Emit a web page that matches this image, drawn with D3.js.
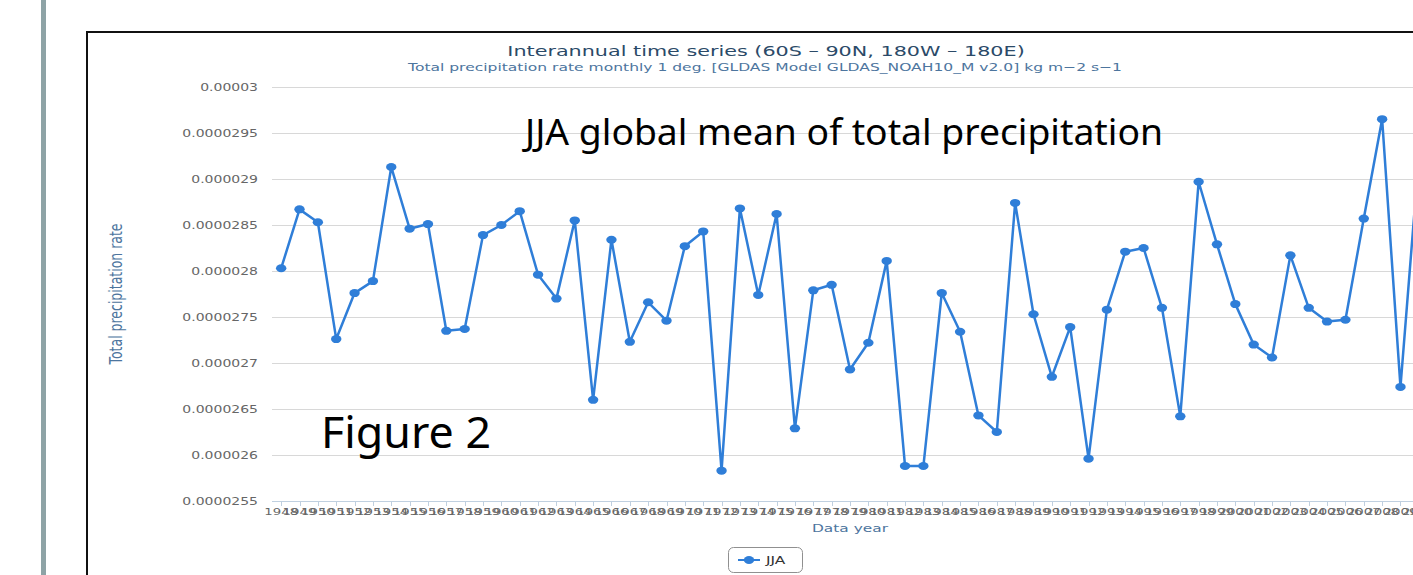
<!DOCTYPE html>
<html>
<head>
<meta charset="utf-8">
<script src="https://cdn.jsdelivr.net/npm/d3@7"></script>
<style>
  html, body { margin: 0; padding: 0; background: #fff; overflow: hidden; }
  svg { display: block; }
</style>
</head>
<body>
<svg id="chart"></svg>
<script>
// JJA global mean total precipitation rate, GLDAS NOAH10 v2.0 (kg m-2 s-1)
const years = d3.range(1948, 2011);
const jja = [
  28.03, 28.67, 28.53, 27.26, 27.76, 27.89, 29.13, 28.46, 28.51, 27.35,
  27.37, 28.39, 28.50, 28.65, 27.96, 27.70, 28.55, 26.60, 28.34, 27.23,
  27.66, 27.46, 28.27, 28.43, 25.83, 28.68, 27.74, 28.62, 26.29, 27.79,
  27.85, 26.93, 27.22, 28.11, 25.88, 25.88, 27.76, 27.34, 26.43, 26.25,
  28.74, 27.53, 26.85, 27.39, 25.96, 27.58, 28.21, 28.25, 27.60, 26.42,
  28.97, 28.29, 27.64, 27.20, 27.06, 28.17, 27.60, 27.45, 27.47, 28.57,
  29.65, 26.74, 29.24
].map(v => v * 1e-6);
const yTicks = [0.0000255, 0.000026, 0.0000265, 0.000027, 0.0000275,
                0.000028, 0.0000285, 0.000029, 0.0000295, 0.00003];
const yTickLabels = ["0.0000255", "0.000026", "0.0000265", "0.000027", "0.0000275",
                     "0.000028", "0.0000285", "0.000029", "0.0000295", "0.00003"];

const width = 1413;
const height = 575;
const SX = 1.4; // the screenshot is stretched sideways
const font = "'DejaVu Sans', Verdana, sans-serif";
const blue = "#2f7ed8";

const svg = d3.select("#chart")
    .attr("width", width)
    .attr("height", height)
    .attr("viewBox", [0, 0, width, height]);

// page furniture
svg.append("rect").attr("x", 41).attr("y", 0).attr("width", 5).attr("height", height)
    .attr("fill", "#8ea3a6");
svg.append("rect").attr("x", 87).attr("y", 32).attr("width", 1400).attr("height", 600)
    .attr("fill", "#fff").attr("stroke", "#111").attr("stroke-width", 2);

const stretched = (g, x, y, txt) => g.append("text")
    .attr("transform", `translate(${x},${y}) scale(${SX},1)`)
    .style("font-family", font)
    .text(txt);

const x = d3.scalePoint().domain(years).range([272, 1428]).padding(0.5);
const y = d3.scaleLinear().domain([0.0000255, 0.00003]).range([501, 87]);

// titles
stretched(svg, 766, 56, "Interannual time series (60S \u2013 90N, 180W \u2013 180E)")
    .attr("text-anchor", "middle").style("font-size", "14.8px").attr("fill", "#2b4a68");
stretched(svg, 765, 71, "Total precipitation rate monthly 1 deg. [GLDAS Model GLDAS_NOAH10_M v2.0] kg m\u22122 s\u22121")
    .attr("text-anchor", "middle").style("font-size", "11.1px").attr("fill", "#4d759e");

// grid + y labels
const grid = svg.append("g");
grid.selectAll("line").data(yTicks.slice(1)).join("line")
    .attr("x1", 272).attr("x2", 1428)
    .attr("y1", d => Math.round(y(d)) + 0.5).attr("y2", d => Math.round(y(d)) + 0.5)
    .attr("stroke", "#d8d8d8");
yTicks.forEach((t, i) => {
    stretched(svg, 258, y(t) + 3.5, yTickLabels[i])
        .attr("text-anchor", "end").style("font-size", "10px").attr("fill", "#666");
});

svg.append("text")
    .attr("transform", `translate(122,294) scale(${SX},1) rotate(-90)`)
    .attr("text-anchor", "middle")
    .style("font-family", font).style("font-size", "12.5px")
    .attr("fill", "#4d759e")
    .text("Total precipitation rate");

// x axis
const ax = svg.append("g");
ax.append("line").attr("x1", 272).attr("x2", 1428).attr("y1", 501.5).attr("y2", 501.5)
    .attr("stroke", "#c0d0e0");
ax.selectAll("line.tick").data(years).join("line").attr("class", "tick")
    .attr("x1", d => Math.round(x(d)) + 0.5).attr("x2", d => Math.round(x(d)) + 0.5)
    .attr("y1", 501).attr("y2", 506)
    .attr("stroke", "#c0d0e0");
years.forEach(yr => {
    stretched(ax, x(yr), 515, String(yr))
        .attr("text-anchor", "middle").style("font-size", "9.5px").attr("fill", "#666");
});
stretched(svg, 850, 532, "Data year")
    .attr("text-anchor", "middle").style("font-size", "11px").attr("fill", "#4d759e");

// series
const pts = years.map((yr, i) => [yr, jja[i]]);
svg.append("path")
    .datum(pts)
    .attr("fill", "none")
    .attr("stroke", blue)
    .attr("stroke-width", 2.5)
    .attr("stroke-linejoin", "round")
    .attr("d", d3.line().x(d => x(d[0])).y(d => y(d[1])));
svg.append("g").selectAll("ellipse").data(pts).join("ellipse")
    .attr("cx", d => x(d[0])).attr("cy", d => y(d[1]))
    .attr("rx", 5.2).attr("ry", 4)
    .attr("fill", blue);

// legend
const lg = svg.append("g");
lg.append("rect").attr("x", 728.5).attr("y", 547.5).attr("width", 74).attr("height", 25)
    .attr("rx", 5).attr("fill", "#fff").attr("stroke", "#909090");
lg.append("line").attr("x1", 738).attr("x2", 760).attr("y1", 560).attr("y2", 560)
    .attr("stroke", blue).attr("stroke-width", 2);
lg.append("ellipse").attr("cx", 749).attr("cy", 560).attr("rx", 5.2).attr("ry", 4).attr("fill", blue);
stretched(lg, 766, 564, "JJA").style("font-size", "11px").attr("fill", "#333");

// annotations pasted on top
svg.append("text").attr("x", 525).attr("y", 145)
    .style("font-family", "'Noto Sans', sans-serif").style("font-size", "37px")
    .attr("textLength", 638).attr("lengthAdjust", "spacingAndGlyphs")
    .attr("fill", "#000")
    .text("JJA global mean of total precipitation");
svg.append("text").attr("x", 321).attr("y", 448)
    .style("font-family", "'Noto Sans', sans-serif").style("font-size", "44px")
    .attr("textLength", 170).attr("lengthAdjust", "spacingAndGlyphs")
    .attr("fill", "#000")
    .text("Figure 2");
</script>
</body>
</html>
